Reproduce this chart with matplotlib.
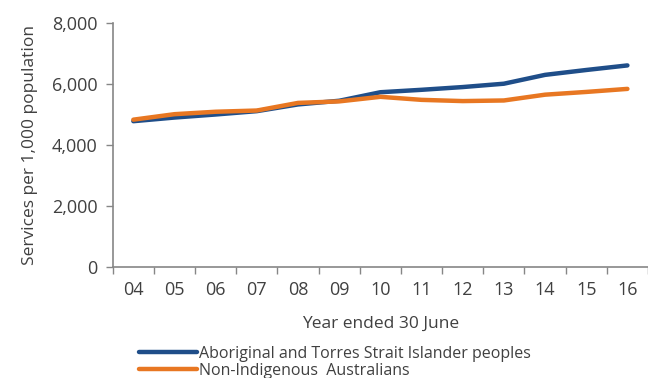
import numpy as np
import matplotlib.pyplot as plt
from matplotlib.ticker import FuncFormatter, FixedLocator

plt.rcParams['font.family'] = ['Open Sans', 'DejaVu Sans']

years = ['04', '05', '06', '07', '08', '09', '10', '11', '12', '13', '14', '15', '16']
indigenous = [4780, 4900, 5000, 5110, 5330, 5450, 5730, 5810, 5900, 6010, 6300, 6460, 6610]
non_indigenous = [4830, 5010, 5090, 5130, 5380, 5430, 5580, 5480, 5440, 5460, 5650, 5740, 5840]

blue = '#1F4E89'
orange = '#E87722'
grey = '#868686'
text_c = '#404040'

fig = plt.figure(figsize=(6.48, 3.78), dpi=100)
ax = fig.add_axes([0.174, 0.294, 0.826, 0.645])

x = np.arange(len(years))
ax.plot(x, indigenous, color=blue, lw=3.2, solid_capstyle='round',
        label='Aboriginal and Torres Strait Islander peoples')
ax.plot(x, non_indigenous, color=orange, lw=3.2, solid_capstyle='round',
        label='Non-Indigenous  Australians')

ax.set_xlim(-0.5, len(years) - 0.5)
ax.set_ylim(0, 8000)
ax.set_yticks([0, 2000, 4000, 6000, 8000])
ax.yaxis.set_major_formatter(FuncFormatter(lambda v, p: f'{v:,.0f}'))

ax.set_xticks(x)
ax.set_xticklabels(years)
ax.xaxis.set_minor_locator(FixedLocator(np.arange(-0.5, len(years), 1.0)))
ax.tick_params(axis='x', which='major', length=0, pad=10)
ax.tick_params(axis='x', which='minor', length=5, color=grey, width=1)
ax.tick_params(axis='y', length=5, color=grey, width=1, pad=6)
ax.tick_params(labelsize=13, labelcolor=text_c)

for s in ['top', 'right']:
    ax.spines[s].set_visible(False)
for s in ['left', 'bottom']:
    ax.spines[s].set_color(grey)
    ax.spines[s].set_linewidth(1.2)

ax.set_xlabel('Year ended 30 June', fontsize=12.5, color=text_c, labelpad=12)
ax.set_ylabel('Services per 1,000 population', fontsize=12.5, color=text_c, labelpad=10)

fig.legend(loc='upper left', bbox_to_anchor=(0.215, 0.085), frameon=False, fontsize=11.5,
           handlelength=3.6, handletextpad=0.15, labelspacing=0.05, labelcolor=text_c,
           borderaxespad=0, borderpad=0)

fig.savefig('out.png', dpi=100)
